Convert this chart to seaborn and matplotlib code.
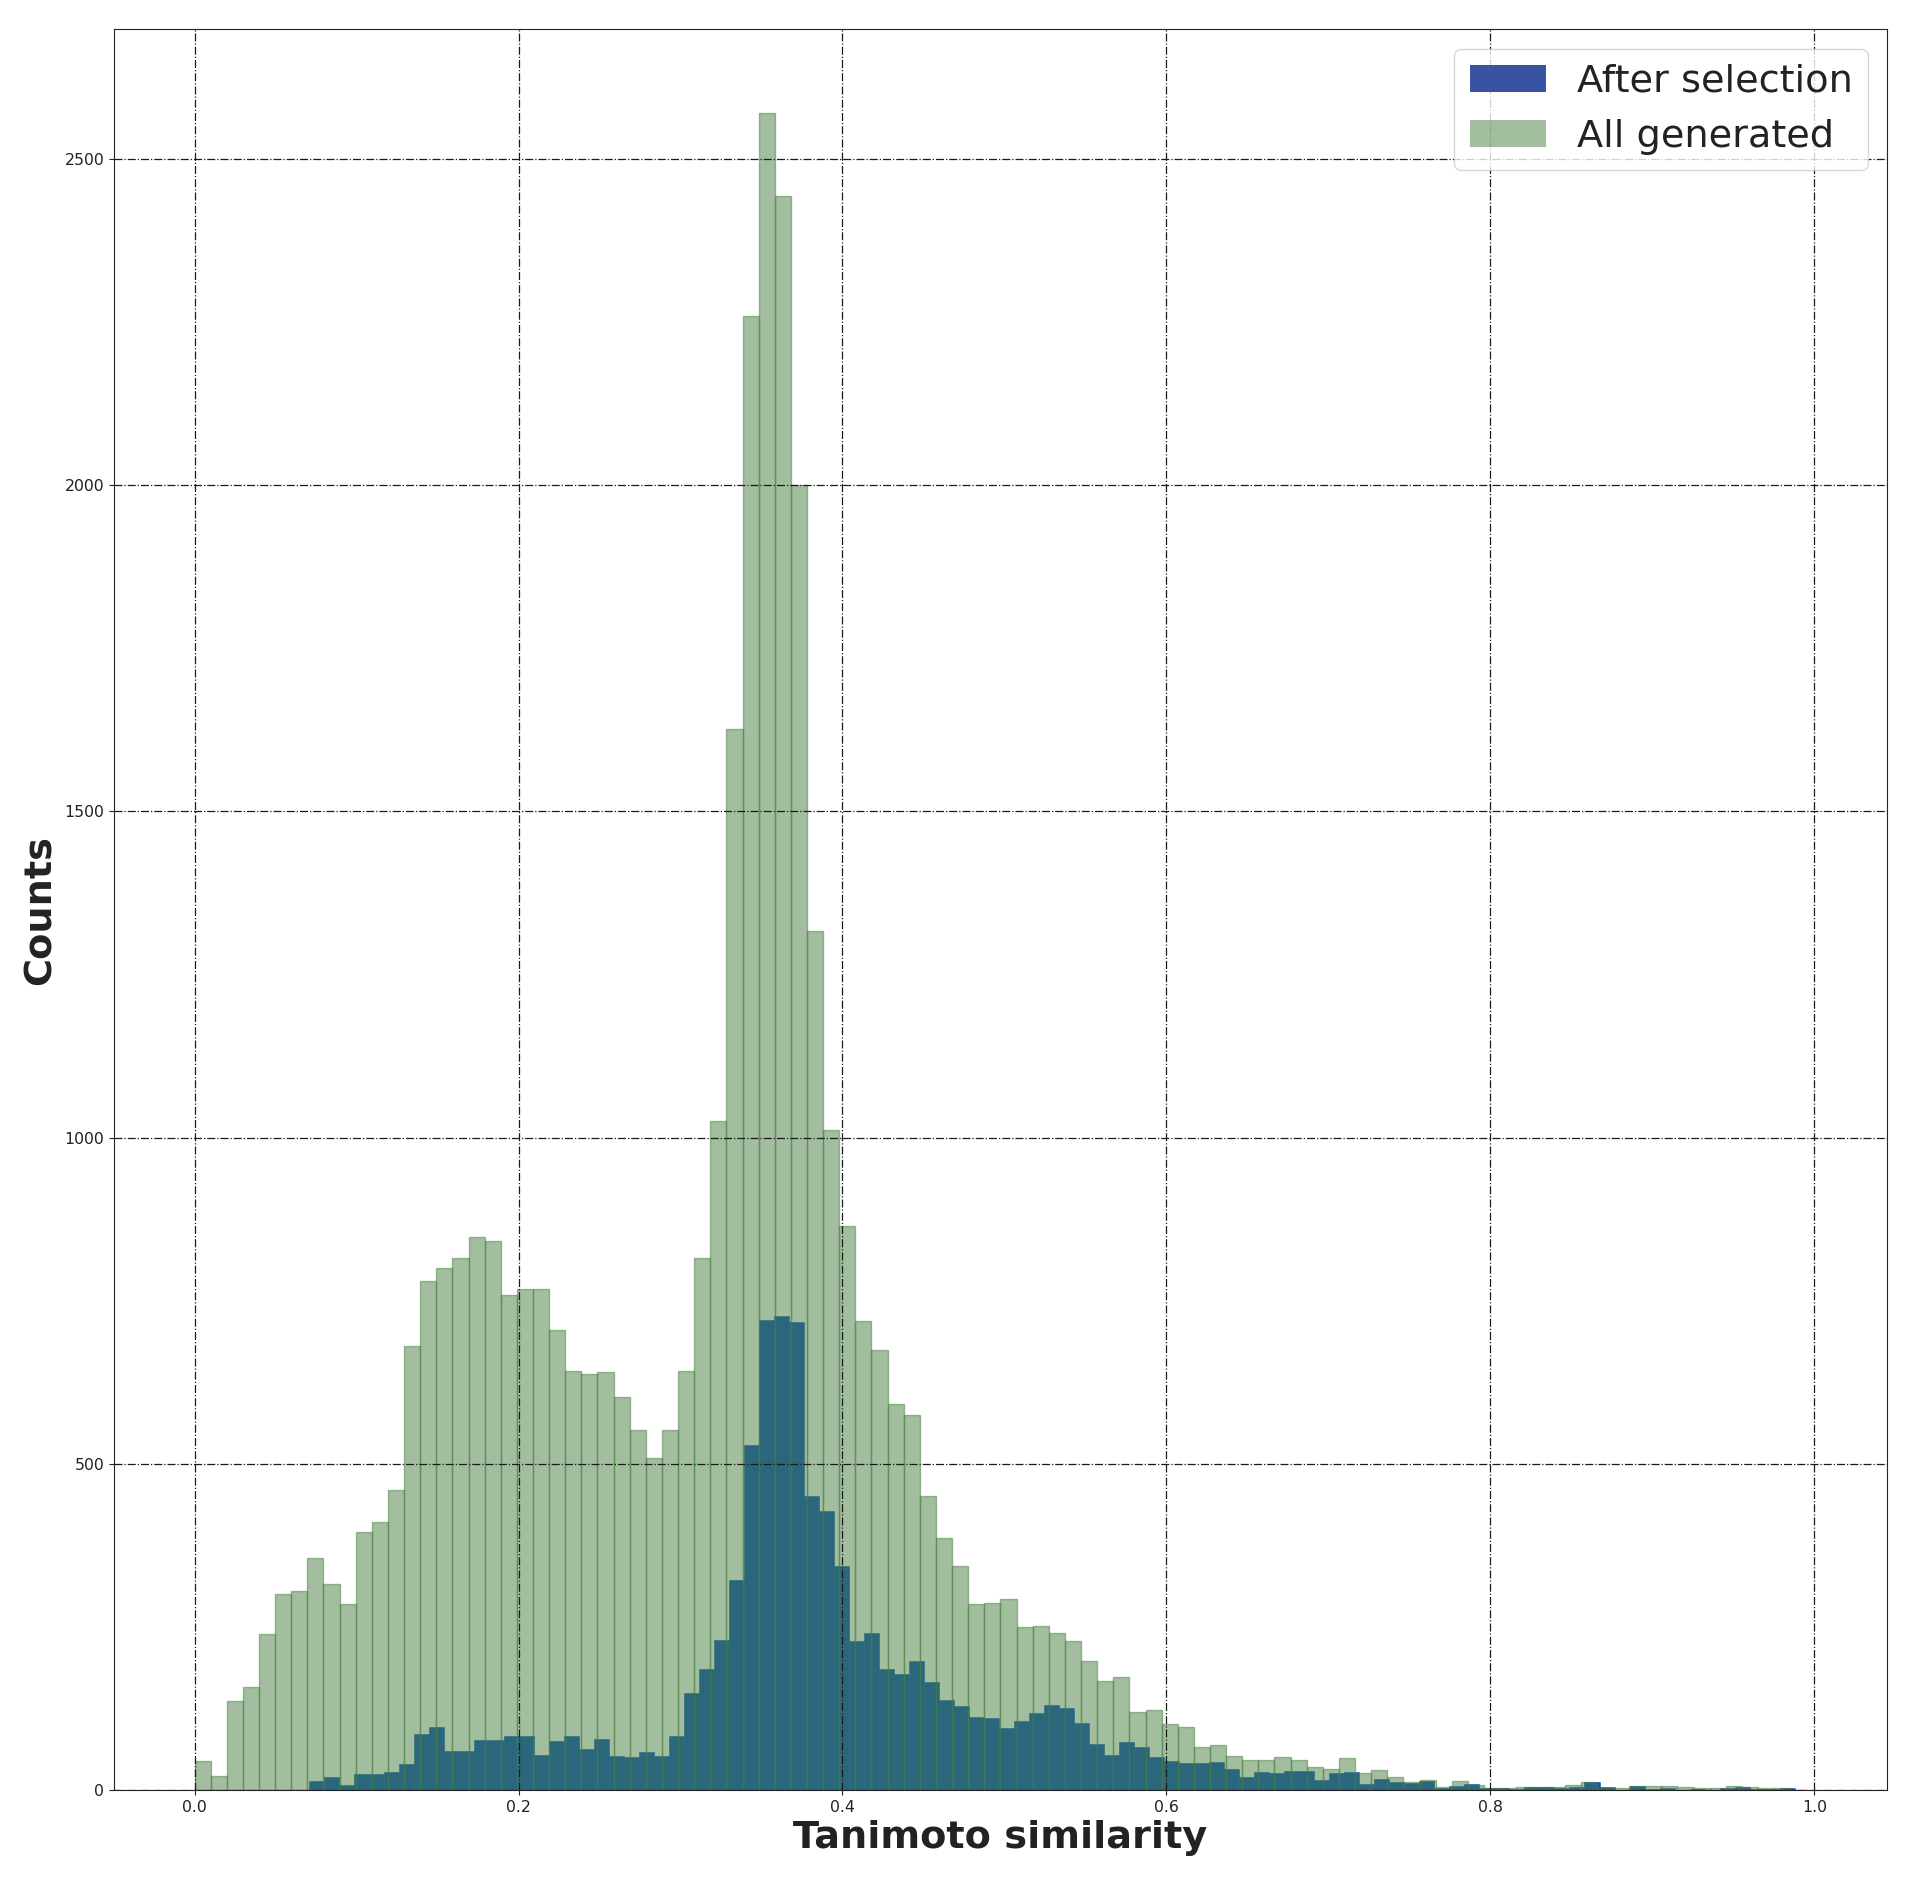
import numpy as np
import pandas as pd
import matplotlib
matplotlib.use("Agg")
import matplotlib.pyplot as plt
import seaborn as sns

# ---------------- data ----------------
series_labels = ["After selection", "All generated"]
x_label = "Tanimoto similarity"
y_label = "Counts"

# "All generated": 100 bins over [0, 0.995]
all_generated_counts = [
    45, 22, 137, 158, 239, 300, 305, 355, 315, 285,
    395, 410, 460, 680, 780, 800, 815, 847, 842, 758,
    768, 768, 705, 642, 637, 640, 602, 551, 509, 552,
    642, 815, 1026, 1627, 2260, 2570, 2443, 2000, 1316, 1012,
    865, 719, 674, 592, 575, 450, 386, 343, 285, 287,
    292, 249, 251, 241, 228, 198, 167, 173, 120, 123,
    101, 97, 66, 69, 52, 46, 46, 51, 46, 35,
    32, 49, 26, 31, 20, 12, 15, 5, 14, 8,
    3, 3, 5, 5, 5, 8, 12, 3, 3, 6,
    6, 6, 5, 3, 3, 6, 5, 3, 3, 0,
]

# "After selection": 99 bins over [0.0709, 0.9877]
after_selection_counts = [
    14, 20, 7, 24, 24, 28, 40, 86, 97, 60,
    60, 77, 77, 82, 83, 53, 75, 83, 62, 78,
    52, 50, 58, 52, 82, 148, 185, 230, 322, 529,
    720, 727, 718, 451, 428, 343, 228, 240, 185, 178,
    198, 165, 138, 128, 112, 110, 95, 105, 118, 130,
    125, 103, 71, 53, 74, 66, 51, 45, 41, 41,
    43, 32, 20, 28, 26, 29, 29, 15, 26, 28,
    9, 17, 12, 11, 14, 3, 6, 9, 3, 3,
    1, 5, 5, 3, 5, 12, 5, 0, 6, 2,
    3, 0, 2, 0, 3, 5, 2, 2, 3,
]

# bin ranges of the two histograms
all_range = (0.0, 0.995)
sel_range = (0.0709, 0.9877)

# ---------------- styling ----------------
BLUE_BAR = "#0d4fbb"
GREEN = "#477f3f"
GREEN_ALPHA = 0.5
LEGEND_BLUE = "#3953a3"
TEXT = "#222222"

all_edges = np.linspace(all_range[0], all_range[1], len(all_generated_counts) + 1)
sel_edges = np.linspace(sel_range[0], sel_range[1], len(after_selection_counts) + 1)
all_df = pd.DataFrame({"x": (all_edges[:-1] + all_edges[1:]) / 2,
                       "w": all_generated_counts})
sel_df = pd.DataFrame({"x": (sel_edges[:-1] + sel_edges[1:]) / 2,
                       "w": after_selection_counts})

plt.rcParams["font.family"] = ["DejaVu Sans"]

fig = plt.figure(figsize=(19.28, 18.78), dpi=100)
ax = fig.add_axes([0.0591, 0.0469, 0.9196, 0.9374])

sns.histplot(data=sel_df, x="x", weights="w", bins=list(sel_edges),
             color=BLUE_BAR, alpha=1.0, edgecolor=BLUE_BAR, linewidth=0.4,
             label=series_labels[0], ax=ax)
green_rgba = matplotlib.colors.to_rgba(GREEN, GREEN_ALPHA)
sns.histplot(data=all_df, x="x", weights="w", bins=list(all_edges),
             color=GREEN, alpha=GREEN_ALPHA, edgecolor=green_rgba, linewidth=1.0,
             label=series_labels[1], ax=ax)

ax.set_axisbelow(False)
ax.grid(True, color="#1a1a1a", linestyle="-.", linewidth=0.9)

ax.set_xlabel(x_label, fontsize=27.5, fontweight="bold", color=TEXT)
ax.set_ylabel(y_label, fontsize=27.5, fontweight="bold", color=TEXT)
ax.tick_params(labelsize=11.3, labelcolor=TEXT, color=TEXT)
for s in ax.spines.values():
    s.set_color("#222222")

leg = ax.legend(fontsize=27.5, loc="upper right")
hs = leg.legend_handles
hs[0].set_facecolor(LEGEND_BLUE)
hs[0].set_edgecolor("none")
hs[1].set_facecolor(green_rgba)
hs[1].set_edgecolor("none")
for t in leg.get_texts():
    t.set_color(TEXT)

fig.savefig("out.png", dpi=100)
